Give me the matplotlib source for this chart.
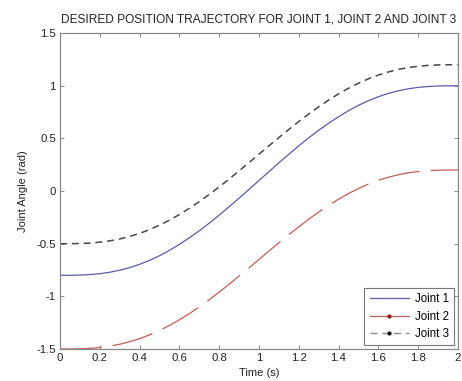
import matplotlib
matplotlib.use("Agg")
import matplotlib.pyplot as plt
from matplotlib.lines import Line2D

plt.rcParams['font.family'] = ['Liberation Sans', 'DejaVu Sans']
plt.rcParams['lines.scale_dashes'] = False

time_s = [0.00, 0.05, 0.10, 0.15, 0.20, 0.25, 0.30, 0.35, 0.40, 0.45,
          0.50, 0.55, 0.60, 0.65, 0.70, 0.75, 0.80, 0.85, 0.90, 0.95,
          1.00, 1.05, 1.10, 1.15, 1.20, 1.25, 1.30, 1.35, 1.40, 1.45,
          1.50, 1.55, 1.60, 1.65, 1.70, 1.75, 1.80, 1.85, 1.90, 1.95, 2.00]
joint1 = [-0.800, -0.800, -0.798, -0.793, -0.785, -0.771, -0.752, -0.727, -0.696, -0.658,
          -0.614, -0.563, -0.506, -0.444, -0.377, -0.305, -0.229, -0.149, -0.068, 0.016,
          0.100, 0.184, 0.268, 0.349, 0.429, 0.505, 0.577, 0.644, 0.706, 0.763,
          0.814, 0.858, 0.896, 0.927, 0.952, 0.971, 0.985, 0.993, 0.998, 1.000, 1.000]
joint2 = [-1.500, -1.500, -1.498, -1.494, -1.485, -1.473, -1.455, -1.431, -1.402, -1.366,
          -1.324, -1.276, -1.223, -1.164, -1.100, -1.032, -0.960, -0.886, -0.808, -0.730,
          -0.650, -0.570, -0.492, -0.415, -0.340, -0.268, -0.200, -0.136, -0.077, -0.024,
          0.024, 0.066, 0.102, 0.131, 0.155, 0.173, 0.185, 0.194, 0.198, 0.200, 0.200]
joint3 = [-0.500, -0.500, -0.498, -0.494, -0.485, -0.473, -0.455, -0.431, -0.402, -0.366,
          -0.324, -0.276, -0.223, -0.164, -0.100, -0.032, 0.040, 0.114, 0.192, 0.270,
          0.350, 0.430, 0.508, 0.585, 0.660, 0.732, 0.800, 0.864, 0.923, 0.976,
          1.024, 1.066, 1.102, 1.131, 1.155, 1.173, 1.185, 1.194, 1.198, 1.200, 1.200]
labels = ["Joint 1", "Joint 2", "Joint 3"]
x_ticks = [0, 0.2, 0.4, 0.6, 0.8, 1, 1.2, 1.4, 1.6, 1.8, 2]
x_ticklabels = ["0", "0.2", "0.4", "0.6", "0.8", "1", "1.2", "1.4", "1.6", "1.8", "2"]
y_ticks = [-1.5, -1, -0.5, 0, 0.5, 1, 1.5]
y_ticklabels = ["-1.5", "-1", "-0.5", "0", "0.5", "1", "1.5"]

c1 = '#5a5ca6'
c2 = '#c65c5c'
c3 = '#484848'

fig = plt.figure(figsize=(4.62, 3.81), dpi=100)
ax = fig.add_axes([0.130, 0.084, 0.861, 0.829])

ax.plot(time_s, joint1, color=c1, lw=0.9)
ax.plot(time_s, joint2, color=c2, lw=0.9, dashes=(30, 8))
ax.plot(time_s, joint3, color=c3, lw=1.1, dashes=(5, 3.5))

ax.set_xlim(0, 2)
ax.set_ylim(-1.5, 1.5)
ax.set_xticks(x_ticks)
ax.set_xticklabels(x_ticklabels)
ax.set_yticks(y_ticks)
ax.set_yticklabels(y_ticklabels)
ax.tick_params(direction='in', length=3, width=0.6, top=True, right=True,
               labelsize=8.2, colors='#777777', labelcolor='#222222', pad=3)
for s in ax.spines.values():
    s.set_color('#888888')
    s.set_linewidth(0.9)

ax.set_title("DESIRED POSITION TRAJECTORY FOR JOINT 1, JOINT 2 AND JOINT 3",
             fontsize=8.6, color='#222222', pad=8)
ax.set_xlabel("Time (s)", fontsize=8, color='#222222', labelpad=3.5)
ax.set_ylabel("Joint Angle (rad)", fontsize=8, color='#222222', labelpad=6)

handles = [
    Line2D([], [], color='#6a6aa0', lw=1.0),
    Line2D([], [], color=c2, lw=0.9, marker='.', markersize=4,
           markerfacecolor='#a01010', markeredgecolor='#a01010'),
    Line2D([], [], color='#8a8a8a', lw=1.0, dashes=(5, 3.5), marker='.', markersize=4,
           markerfacecolor='black', markeredgecolor='black'),
]
leg = ax.legend(handles, labels, loc='lower right', fontsize=8.3, frameon=True,
                fancybox=False, borderaxespad=0.35, handlelength=3.4,
                handletextpad=0.5, labelspacing=0.45, borderpad=0.45)
leg.get_frame().set_edgecolor('#555555')
leg.get_frame().set_linewidth(0.8)

fig.savefig("out.png", dpi=100)
